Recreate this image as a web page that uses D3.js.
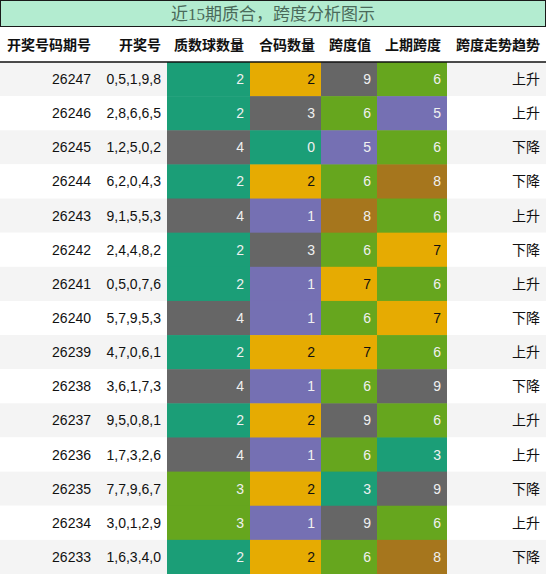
<!DOCTYPE html>
<html><head><meta charset="utf-8">
<script src="https://cdn.jsdelivr.net/npm/d3@7"></script>
<style>body{margin:0;background:#fff}</style>
</head><body>
<svg width="546" height="574"></svg>
<script>
// table data
const headers = ["开奖号码期号", "开奖号", "质数球数量", "合码数量", "跨度值", "上期跨度", "跨度走势趋势"];
const issues = ["26247","26246","26245","26244","26243","26242","26241","26240","26239","26238","26237","26236","26235","26234","26233"];
const draws = ["0,5,1,9,8","2,8,6,6,5","1,2,5,0,2","6,2,0,4,3","9,1,5,5,3","2,4,4,8,2","0,5,0,7,6","5,7,9,5,3","4,7,0,6,1","3,6,1,7,3","9,5,0,8,1","1,7,3,2,6","7,7,9,6,7","3,0,1,2,9","1,6,3,4,0"];
const primes = [2,2,4,2,4,2,2,4,2,4,2,4,3,3,2];
const composites = [2,3,0,2,1,3,1,1,2,1,2,1,2,1,2];
const spans = [9,6,5,6,8,6,7,6,7,6,9,6,3,9,6];
const prevSpans = [6,5,6,8,6,7,6,7,6,9,6,3,9,6,8];
const trends = ["上升","上升","下降","下降","上升","下降","上升","下降","上升","下降","上升","上升","下降","上升","下降"];

const C = {teal:"#1b9e77", purple:"#7570b3", green:"#66a61e", yellow:"#e6ab02", brown:"#a6761d", gray:"#666666"};
const primeColor = d3.scaleOrdinal().domain([2,3,4]).range([C.teal,C.green,C.gray]);
const compColor = d3.scaleOrdinal().domain([0,1,2,3]).range([C.teal,C.purple,C.yellow,C.gray]);
const spanColor = d3.scaleOrdinal().domain([3,5,6,7,8,9]).range([C.teal,C.purple,C.green,C.yellow,C.brown,C.gray]);

const colEdges = [0,97,167,250,321,377,447,546];
const columns = [
  {vals: issues}, {vals: draws},
  {vals: primes, color: primeColor}, {vals: composites, color: compColor},
  {vals: spans, color: spanColor}, {vals: prevSpans, color: spanColor},
  {vals: trends}
];

const svg = d3.select("svg");
const font = "'Liberation Sans', 'Noto Sans CJK SC', sans-serif";

// title
svg.append("rect").attr("x",0.5).attr("y",0.5).attr("width",545).attr("height",26)
  .attr("fill","#b3ecd0").attr("stroke","#1a1a1a");
svg.append("text").attr("x",273).attr("y",20).attr("text-anchor","middle")
  .attr("font-family","'Liberation Serif','Noto Sans CJK SC',serif").attr("font-size",17)
  .attr("fill","#4a6a5a").text("近15期质合，跨度分析图示");

// header
const headY = 27, headH = 35;
headers.forEach((h,i)=>{
  svg.append("text").attr("x",colEdges[i+1]-6).attr("y",headY+headH/2+5)
    .attr("text-anchor","end").attr("font-family",font).attr("font-size",14)
    .attr("font-weight","bold").attr("fill","#111").text(h);
});

const y = d3.scaleBand().domain(d3.range(issues.length)).range([headY+headH,574]);

const rows = svg.append("g");
rows.selectAll("rect.bg").data(issues).join("rect")
  .attr("x",0).attr("y",(d,i)=>y(i)).attr("width",546).attr("height",y.bandwidth())
  .attr("fill",(d,i)=>i%2===0?"#f4f4f4":"#ffffff");

columns.forEach((col,ci)=>{
  const x0 = colEdges[ci], x1 = colEdges[ci+1];
  if (col.color) {
    rows.selectAll(null).data(col.vals).join("rect")
      .attr("x",x0).attr("y",(d,i)=>y(i)).attr("width",x1-x0).attr("height",y.bandwidth()+0.5)
      .attr("fill",d=>col.color(d));
  }
  rows.selectAll(null).data(col.vals).join("text")
    .attr("x",x1-6).attr("y",(d,i)=>y(i)+y.bandwidth()/2+5)
    .attr("text-anchor","end").attr("font-family",font).attr("font-size",14)
    .attr("fill",d=>!col.color?"#111":(col.color(d)===C.yellow?"#111":"#f0f0f0"))
    .text(d=>d);
});

svg.append("line").attr("x1",0).attr("x2",546).attr("y1",headY+headH).attr("y2",headY+headH)
  .attr("stroke","#111").attr("stroke-width",1.5);
</script>
</body></html>
